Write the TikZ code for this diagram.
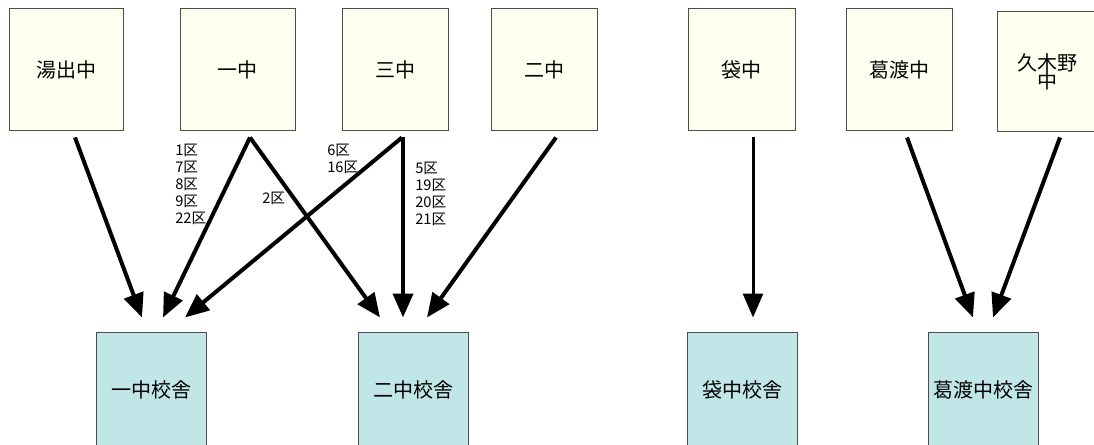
\documentclass[tikz,border=0pt]{standalone}
\usepackage{fontspec}
\setmainfont{Noto Sans CJK JP}
\usepackage{xcolor}
\usetikzlibrary{shapes, positioning, arrows.meta}

\begin{document}
\begin{tikzpicture}[x=0.75pt, y=-0.75pt,
  chu/.style={draw=black!70, line width=0.75pt, fill=chufill, minimum height=91.5pt, inner sep=0pt, align=center, font=\fontsize{15}{14}\selectfont},
  kosha/.style={draw=black!70, line width=0.75pt, fill=koshafill, minimum width=83pt, minimum height=87pt, inner sep=0pt, font=\fontsize{15}{14}\selectfont},
  ku/.style={anchor=west, inner sep=0pt, align=left, font=\fontsize{11}{12.75}\selectfont},
  ido/.style={line width=3pt, -{Triangle[length=18pt, width=15pt]}}
]

% Define colors for the boxes
\definecolor{chufill}{RGB}{255,255,240}
\definecolor{koshafill}{RGB}{192,230,232}

% Picture size
\useasboundingbox (0,0) rectangle (1094,445);
\clip (0,0) rectangle (1094,445);

% Draw the schools (top row)
\node[chu, minimum width=85.5pt] (yude) at (66,70) {湯出中};
\node[chu, minimum width=86.25pt] (ichi) at (237.5,70) {一中};
\node[chu, minimum width=79.5pt] (san) at (395,70) {三中};
\node[chu, minimum width=79.5pt] (ni) at (544,70) {二中};
\node[chu, minimum width=80.25pt] (fukuro) at (741.5,70) {袋中};
\node[chu, minimum width=79.5pt] (katto) at (899,70) {葛渡中};
\node[chu, minimum width=75pt, minimum height=90pt] (kukino) at (1047,72) {久木野\\中};

% Draw the buildings (bottom row)
\node[kosha] (ichiK) at (151.5,390) {一中校舎};
\node[kosha, minimum width=82pt] (niK) at (413.5,390) {二中校舎};
\node[kosha] (fukuroK) at (742.5,390) {袋中校舎};
\node[kosha] (kattoK) at (983.5,390) {葛渡中校舎};

% Arrows
\draw[ido] ([shift={(9,6)}]yude.south) -- ([shift={(-9.5,-14)}]ichiK.north);
\draw[ido] ([shift={(12.5,6)}]ichi.south) -- ([shift={(11.5,-14)}]ichiK.north);
\draw[ido] ([shift={(12.5,6)}]ichi.south) -- ([shift={(-33.5,-14)}]niK.north);
\draw[ido] ([shift={(7,6)}]san.south) -- ([shift={(33.5,-14)}]ichiK.north);
\draw[ido] ([shift={(8,6)}]san.south) -- ([shift={(-10.5,-14)}]niK.north);
\draw[ido] ([shift={(12,6)}]ni.south) -- ([shift={(13.5,-14)}]niK.north);
\draw[ido, line width=2.25pt] ([shift={(11.5,6)}]fukuro.south) -- ([shift={(10.5,-14)}]fukuroK.north);
\draw[ido] ([shift={(8,6)}]katto.south) -- ([shift={(-10.5,-14)}]kattoK.north);
\draw[ido] ([shift={(13,5)}]kukino.south) -- ([shift={(9.5,-14)}]kattoK.north);

% Add labels for the districts
\node[ku] (kuA) at (175,184) {1区\\7区\\8区\\9区\\22区};
\node[ku] (kuB) at (262,198) {2区};
\node[ku] (kuC) at (327,158.5) {6区\\16区};
\node[ku] (kuD) at (415,194) {5区\\19区\\20区\\21区};

\end{tikzpicture}
\end{document}
